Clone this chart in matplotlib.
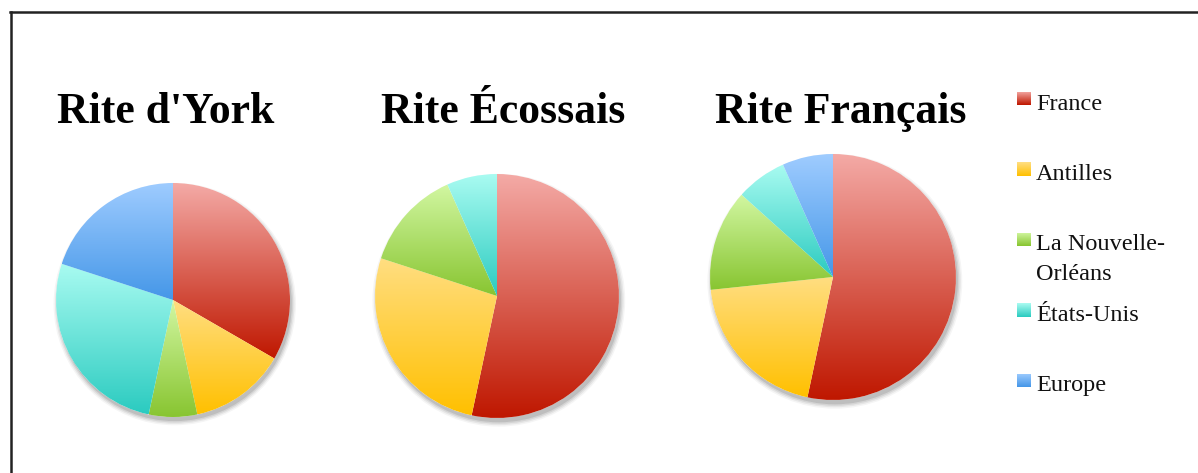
import numpy as np
import matplotlib
matplotlib.use("Agg")
import matplotlib.pyplot as plt
from matplotlib.colors import LinearSegmentedColormap, to_rgb
from matplotlib.patches import Circle
from matplotlib.lines import Line2D

# data (counts, 15 lodges per rite)
regions = ["France", "Antilles", "La Nouvelle-\nOrléans", "États-Unis", "Europe"]
rites = ["Rite d'York", "Rite Écossais", "Rite Français"]
york = [5, 2, 1, 4, 3]
ecossais = [8, 4, 2, 1, 0]
francais = [8, 3, 2, 1, 1]

# light (top) -> dark (bottom) gradient of each slice
light = ["#F4AAA6", "#FFDE82", "#D2F7A2", "#A9FBF1", "#9FCCFF"]
dark = ["#BF1700", "#FFC000", "#88C531", "#2BCBC0", "#4597E8"]

W, H = 1198, 473
fig = plt.figure(figsize=(W / 100, H / 100), dpi=100)
fig.patch.set_facecolor("white")

serif = ["Liberation Serif", "DejaVu Serif"]


def px_axes(cx, cy, r):
    # square axes centred on (cx, cy) in pixels from top-left, data radius 1
    half = r * 1.15
    return fig.add_axes([(cx - half) / W, (H - cy - half) / H, 2 * half / W, 2 * half / H])


def gradient_pie(ax, values):
    # soft drop shadow
    for k, a in enumerate([0.10, 0.08, 0.06, 0.04]):
        ax.add_patch(Circle((0.015, -0.035), 1.0 + 0.012 * k, color="black",
                            alpha=a, lw=0, zorder=0))
    ax.add_patch(Circle((0, 0), 1.0, color="white", lw=0, zorder=0.5))
    wedges, _ = ax.pie(values, startangle=90, counterclock=False, radius=1.0,
                       wedgeprops=dict(linewidth=0, edgecolor="none"))
    grad = np.linspace(0, 1, 256).reshape(-1, 1)
    for w, lo, hi in zip(wedges, light, dark):
        w.set_facecolor("none")
        w.set_zorder(1)
        if w.theta2 - w.theta1 <= 0:
            continue
        bb = w.get_path().get_extents()
        cmap = LinearSegmentedColormap.from_list("g", [to_rgb(lo), to_rgb(hi)])
        im = ax.imshow(grad, cmap=cmap, aspect="auto", origin="upper",
                       extent=[bb.x0, bb.x1, bb.y0, bb.y1], zorder=1,
                       interpolation="bilinear")
        im.set_clip_path(w)
    ax.set_xlim(-1.15, 1.15)
    ax.set_ylim(-1.15, 1.15)
    ax.set_aspect("equal")
    ax.axis("off")


pies = [(york, 173, 300, 117), (ecossais, 497, 296, 122), (francais, 833, 277, 123)]
for vals, cx, cy, r in pies:
    ax = px_axes(cx, cy, r)
    gradient_pie(ax, vals)

title_x = [166, 503, 841]
for t, x in zip(rites, title_x):
    fig.text(x / W, (H - 123) / H, t, ha="center", va="baseline",
             fontsize=31.5, fontweight="bold", family=serif, color="black")

# legend
base0, step, line_gap = 109.5, 70.4, 30
for i, (lab, lo, hi) in enumerate(zip(regions, light, dark)):
    yb = base0 + i * step
    grad = np.linspace(0, 1, 32).reshape(-1, 1)
    cmap = LinearSegmentedColormap.from_list("g", [to_rgb(lo), to_rgb(hi)])
    lax = fig.add_axes([1017 / W, (H - yb + 4) / H, 14 / W, 13.5 / H])
    lax.imshow(grad, cmap=cmap, aspect="auto", interpolation="bilinear")
    lax.axis("off")
    for k, part in enumerate(lab.split("\n")):
        fig.text(1036 / W, (H - yb - k * line_gap) / H, part, ha="left", va="baseline",
                 fontsize=17.5, family=serif, color="#111111")

# frame: only top and left edges are visible
fig.add_artist(Line2D([10 / W, 1], [(H - 12.5) / H] * 2, color="#222222", lw=1.8))
fig.add_artist(Line2D([10.5 / W] * 2, [0, (H - 12.5) / H], color="#222222", lw=1.8))

fig.savefig("out.png", dpi=100, facecolor="white")
